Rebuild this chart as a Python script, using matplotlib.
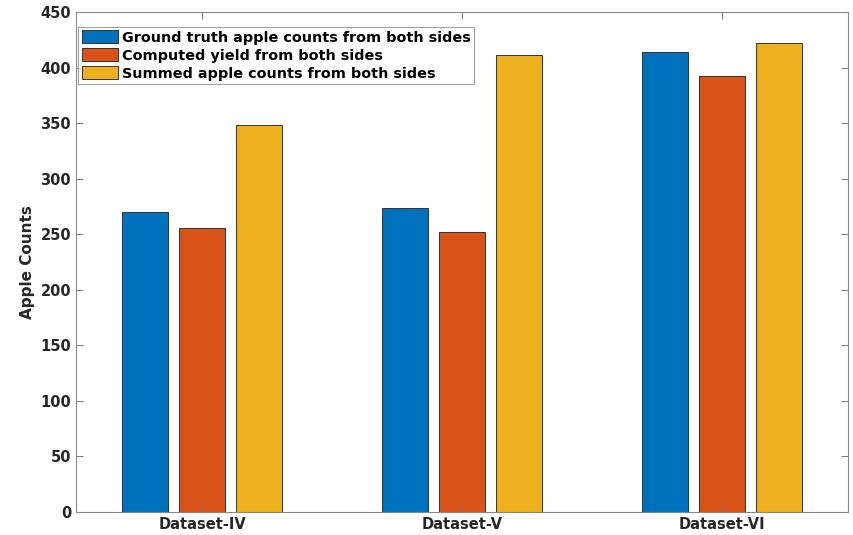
import numpy as np
import matplotlib
matplotlib.use("Agg")
import matplotlib.pyplot as plt

datasets = ["Dataset-IV", "Dataset-V", "Dataset-VI"]
ground_truth = [270, 274, 414]
computed_yield = [256, 252, 392]
summed_counts = [348, 411, 422]

series_names = ["Ground truth apple counts from both sides",
                "Computed yield from both sides",
                "Summed apple counts from both sides"]
colors = ["#0072BD", "#D95319", "#EDB120"]

plt.rcParams["font.family"] = "DejaVu Sans"
plt.rcParams["font.weight"] = "bold"

fig = plt.figure(figsize=(8.54, 5.35), dpi=100)
ax = fig.add_axes([76 / 854, 23 / 535, 772 / 854, 500 / 535])

x = np.arange(1, len(datasets) + 1)
width = 0.177
offset = 0.22
for i, vals in enumerate([ground_truth, computed_yield, summed_counts]):
    ax.bar(x + (i - 1) * offset, vals, width, color=colors[i],
           edgecolor="#333333", linewidth=0.7, label=series_names[i])

ax.set_xlim(0.515, 3.485)
ax.set_ylim(0, 450)
ax.set_yticks(range(0, 451, 50))
ax.set_xticks(x)
ax.set_xticklabels(datasets)
ax.set_ylabel("Apple Counts", fontsize=11, fontweight="bold", color="#262626")

ax.tick_params(direction="in", top=True, right=True, length=5,
               width=0.7, color="#777777", labelsize=10.5, labelcolor="#262626")
for lab in ax.get_xticklabels() + ax.get_yticklabels():
    lab.set_fontweight("bold")
for sp in ax.spines.values():
    sp.set_color("#888888")
    sp.set_linewidth(0.8)

leg = ax.legend(loc="upper left", bbox_to_anchor=(0.0, 0.975),
                prop={"weight": "bold", "size": 10.4}, frameon=True,
                fancybox=False, edgecolor="#888888", handlelength=2.5,
                handleheight=1.0, handletextpad=0.25, borderpad=0.25,
                labelspacing=0.25, borderaxespad=0.15)
leg.get_frame().set_linewidth(0.8)

fig.savefig("out.png", dpi=100)
